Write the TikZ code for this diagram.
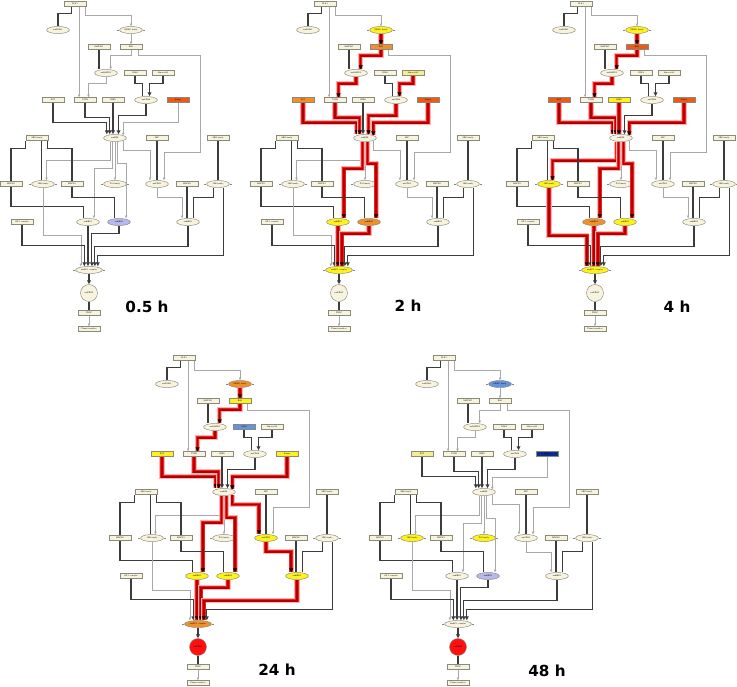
\documentclass[tikz,border=0pt]{standalone}
\usepackage{fontspec}
\usetikzlibrary{shapes.geometric,arrows.meta}
\newfontfamily\labelfont{DejaVu Sans}
\newcommand\tinyfont{\sffamily\fontsize{1.8}{2}\selectfont}

\definecolor{cream}{HTML}{F7F3DE}
\definecolor{boxline}{HTML}{8A8A7A}
\definecolor{thinline}{HTML}{A8A8A8}
\definecolor{darkline}{HTML}{3C3C3C}
\definecolor{nyellow}{HTML}{FFF21A}
\definecolor{norange}{HTML}{F0902A}
\definecolor{nred}{HTML}{EE5A16}
\definecolor{npale}{HTML}{F5EE90}
\definecolor{nblue}{HTML}{6692E2}
\definecolor{nnavy}{HTML}{0B2C8E}
\definecolor{nlav}{HTML}{B8B8F0}
\definecolor{nredc}{HTML}{FF1010}
\definecolor{hotcore}{HTML}{B00000}
\definecolor{hotred}{HTML}{F02020}

\tikzset{
  box/.style={draw=boxline, fill=cream, minimum width=19pt, minimum height=4.3pt, inner sep=0.4pt, font=\tinyfont},
  oval/.style={ellipse, draw=boxline, fill=cream, minimum width=19.5pt, minimum height=6pt, inner sep=0pt, font=\tinyfont},
  dot/.style={circle, draw=boxline, fill=cream, minimum size=14.5pt, inner sep=0pt, font=\tinyfont},
  lt/.style={draw=thinline, line width=0.45pt, >={Triangle[length=2.2pt,width=2pt]}},
  dk/.style={draw=darkline, line width=0.95pt, >={Triangle[length=3.4pt,width=3.2pt]}},
  hot/.style={draw=hotcore, line width=1.3pt, >={Triangle[length=3.4pt,width=3.4pt,color=black]},
    preaction={draw=red!30, line width=4.3pt, arrows=-},
    preaction={draw=hotred, line width=2.9pt, arrows=-}},
  pinw/.style={draw=boxline, line width=0.3pt},
  tlabel/.style={font=\labelfont\bfseries\fontsize{13}{16}\selectfont, inner sep=0pt}
}

% the signalling network of one time point
\newcommand\network{%
  \node[box, f-ELK/.try] (ELK) at (75,4) {ELK1};
  \node[oval, f-FOS/.try] (FOS) at (58,30) {sesFOSL1};
  \node[oval, f-MEKK/.try] (MEKK) at (131,30) {MEKK family};
  \node[box, f-MAP3K/.try] (MAP3K) at (99,47) {MAP3K7};
  \node[box, f-RSK/.try] (RSK) at (131,47) {RSK};
  \node[oval, f-MAPK3/.try] (MAPK3) at (106,73) {sesMAPK3};
  \node[box, f-CDK4/.try] (CDK4) at (135,73) {CDK4};
  \node[box, f-HIST/.try] (HIST) at (163,73) {Histone H3};
  \node[box, f-EGF/.try] (EGF) at (53,100) {EGF};
  \node[box, f-TGFB/.try] (TGFB) at (85,100) {TGFB};
  \node[box, f-GRB/.try] (GRB) at (113,100) {GRB2};
  \node[oval, f-sCDK4/.try] (sCDK4) at (146,100) {sesCDK4};
  \node[box, f-KIN/.try] (KIN) at (178,100) {Kinase};
  \node[oval, f-ERK/.try] (ERK) at (115,138) {sesERK};
  \node[box, f-SRKa/.try] (SRKa) at (37,138) {SRK family};
  \node[box, f-SRC/.try] (SRC) at (157,138) {SRC};
  \node[box, f-SRKb/.try] (SRKb) at (218,138) {SRK family};
  \node[box, f-MAPK2/.try] (MAPK2) at (11,184) {MAPK2};
  \node[oval, f-JNKa/.try] (JNKa) at (43,184) {JNK family};
  \node[box, f-MAPK1/.try] (MAPK1) at (72,184) {MAPK1};
  \node[oval, f-P38/.try] (P38) at (115,184) {P38 family};
  \node[oval, f-CDK1/.try] (CDK1) at (157,184) {sesCDK1};
  \node[box, f-MAPK8/.try] (MAPK8) at (187,184) {MAPK8};
  \node[oval, f-JNKb/.try] (JNKb) at (218,184) {JNK family};
  \node[box, f-AP/.try] (AP) at (22,222) {AP-1 complex};
  \node[oval, f-ERKa/.try] (ERKa) at (88,222) {sesERK1};
  \node[oval, f-ERKb/.try] (ERKb) at (119,222) {sesERK2};
  \node[oval, f-ERKc/.try] (ERKc) at (188,222) {sesERK3};
  \node[oval, f-sAP/.try, minimum width=23pt] (sAP) at (89,270) {sesAP-1 complex};
  \node[dot, f-sPROC/.try] (sPROC) at (89,293) {sesPROC};
  \node[box] (PROC) at (89,313) {PROC};
  \node[box] (PH) at (89,329) {Phase transition};
  \foreach \p in {MEKK,JNKa,P38,JNKb,sAP} {
    \draw[pinw] (\p.west) -- ++(-2,0);
    \draw[pinw] (\p.east) -- ++(2,0);
  }
  % top part
  \draw[dk, e-ELK-FOS/.try] ([xshift=-3pt]ELK.south) -- ++(0,7) -| (FOS.north);
  \draw[lt, ->, e-ELK-TGFB/.try] ([xshift=3.5pt]ELK.south) -- ([xshift=3.5pt]ELK.south |- TGFB.north);
  \draw[lt, ->, e-ELK-MEKK/.try] ([xshift=9pt]ELK.south) -- ++(0,9) -| (MEKK.north);
  \draw[lt, ->, e-MEKK-RSK/.try] (MEKK.south) -- (RSK.north);
  \draw[dk, e-MAP3K-MAPK3/.try] (MAP3K.south) -- (MAP3K.south |- MAPK3.north);
  \draw[lt, ->, e-RSK-MAPK3/.try] (RSK.south) -- ++(0,6) -| ([xshift=4pt]MAPK3.north);
  \draw[lt, ->, e-RSK-CDK1/.try] ([xshift=6pt]RSK.south) -- ++(0,6) -- ++(62,0) -- ++(0,97) -| ([xshift=6pt]CDK1.north);
  \draw[lt, ->, e-MAPK3-TGFB/.try] (MAPK3.south) -- ++(0,7) -| ([xshift=3pt]TGFB.north);
  \draw[dk, e-CDK4-sCDK4/.try] (CDK4.south) -- ++(0,8) -| ([xshift=-3pt]sCDK4.north);
  \draw[dk, ->, e-HIST-sCDK4/.try] (HIST.south) -- ++(0,8) -| ([xshift=3pt]sCDK4.north);
  % into sesERK
  \draw[dk, ->, e-EGF-ERK/.try] (EGF.south) -- ++(0,20) -| ([xshift=-7pt]ERK.north);
  \draw[dk, ->, e-TGFB-ERK/.try] (TGFB.south) -- ++(0,15) -| ([xshift=-4.5pt]ERK.north);
  \draw[dk, ->, e-GRB-ERK/.try] (GRB.south) -- (GRB.south |- ERK.north);
  \draw[dk, ->, e-sCDK4-ERK/.try] (sCDK4.south) -- ++(0,12) -| ([xshift=3pt]ERK.north);
  \draw[lt, ->, e-KIN-ERK/.try] (KIN.south) -- ++(0,20) -| (ERK.north east);
  % out of sesERK
  \draw[lt, ->, e-ERK-JNKa/.try] ([xshift=-4pt]ERK.south) -- ++(0,19) -| ([xshift=3pt]JNKa.north);
  \draw[lt, ->, e-ERK-P38/.try] (ERK.south) -- (P38.north);
  \draw[lt, ->, e-ERK-ERKa/.try] ([xshift=-2pt]ERK.south) -- ++(0,27) -| ([xshift=5pt]ERKa.north);
  \draw[lt, ->, e-ERK-ERKb/.try] ([xshift=2pt]ERK.south) -- ++(0,22) -| ([xshift=6pt]ERKb.north);
  \draw[lt, ->, e-ERK-CDK1/.try] (ERK.south east) -- ++(0,10) -| ([xshift=-6pt]CDK1.north);
  \draw[dk, e-SRC-CDK1/.try] (SRC.south) -- (CDK1.north);
  % kinase families
  \draw[dk, e-SRKa-MAPK2/.try] ([xshift=-10pt]SRKa.south) -- ++(0,8) -| (MAPK2.north);
  \draw[dk, e-SRKa-JNKa/.try] ([xshift=4pt]SRKa.south) -- ([xshift=4pt]SRKa.south |- JNKa.north);
  \draw[dk, e-SRKa-MAPK1/.try] ([xshift=9pt]SRKa.south) -- ++(0,8) -| (MAPK1.north);
  \draw[dk, e-MAPK2-ERKa/.try] (MAPK2.south) -- ++(0,20) -| ([xshift=-4pt]ERKa.north);
  \draw[dk, e-MAPK1-ERKb/.try] (MAPK1.south) -- ++(0,11) -| ([xshift=-4pt]ERKb.north);
  \draw[dk, e-SRKb-JNKb/.try] (SRKb.south) -- (JNKb.north);
  \draw[dk, e-MAPK8-ERKc/.try] (MAPK8.south) -- (MAPK8.south |- ERKc.north);
  \draw[dk, e-JNKb-ERKc/.try] ([xshift=-4pt]JNKb.south) -- ++(0,10) -| ([xshift=5pt]ERKc.north);
  \draw[lt, ->, e-CDK1-ERKc/.try] (CDK1.south) -- ++(0,10) -| ([xshift=-5pt]ERKc.north);
  % into AP-1
  \draw[lt, ->, e-JNKa-sAP/.try] (JNKa.south) -- ++(0,48) -| ([xshift=-7pt]sAP.north);
  \draw[dk, ->, e-AP-sAP/.try] (AP.south) -- ++(0,21) -| ([xshift=-4pt]sAP.north);
  \draw[dk, ->, e-ERKa-sAP/.try] (ERKa.south) -- (ERKa.south |- sAP.north);
  \draw[dk, ->, e-ERKb-sAP/.try] (ERKb.south) -- ++(0,8) -| ([xshift=2.5pt]sAP.north);
  \draw[dk, ->, e-ERKc-sAP/.try] (ERKc.south) -- ++(0,21) -| ([xshift=5pt]sAP.north);
  \draw[dk, ->, e-JNKb-sAP/.try] ([xshift=5pt]JNKb.south) -- ++(0,68) -| ([xshift=7.5pt]sAP.north);
  % output
  \draw[dk, ->, e-sAP-sPROC/.try] (sAP.south) -- (sPROC.north);
  \draw[dk, e-sPROC-PROC/.try] (sPROC.south) -- (PROC.north);
  \draw[lt, ->, e-PROC-PH/.try] (PROC.south) -- (PH.north);
}

\begin{document}
\begin{tikzpicture}[x=0.03cm, y=-0.03cm]
  \useasboundingbox (0,0) rectangle (737,686);

  % 0.5 h
  \begin{scope}[f-KIN/.style={fill=nred}, f-ERKb/.style={fill=nlav}]
    \network
    \node[tlabel] (t1) at (147,307) {0.5 h};
  \end{scope}

  % 2 h
  \begin{scope}[shift={(250,0)},
      f-MEKK/.style={fill=nyellow}, f-RSK/.style={fill=norange}, f-HIST/.style={fill=npale},
      f-EGF/.style={fill=norange}, f-KIN/.style={fill=nred}, f-ERKa/.style={fill=nyellow},
      f-ERKb/.style={fill=norange}, f-sAP/.style={fill=nyellow},
      e-MEKK-RSK/.style=hot, e-RSK-MAPK3/.style=hot, e-MAPK3-TGFB/.style=hot,
      e-HIST-sCDK4/.style=hot, e-EGF-ERK/.style=hot, e-TGFB-ERK/.style=hot,
      e-sCDK4-ERK/.style=hot, e-KIN-ERK/.style=hot, e-ERK-ERKa/.style=hot,
      e-ERK-ERKb/.style=hot, e-ERKa-sAP/.style=hot, e-ERKb-sAP/.style=hot]
    \network
    \node[tlabel] (t2) at (158,306) {2 h};
  \end{scope}

  % 4 h
  \begin{scope}[shift={(506,0)},
      f-MEKK/.style={fill=nyellow}, f-RSK/.style={fill=nred}, f-EGF/.style={fill=nred},
      f-GRB/.style={fill=nyellow}, f-KIN/.style={fill=nred}, f-JNKa/.style={fill=nyellow},
      f-ERKa/.style={fill=norange}, f-ERKb/.style={fill=nyellow}, f-sAP/.style={fill=nyellow},
      e-MEKK-RSK/.style=hot, e-RSK-MAPK3/.style=hot, e-MAPK3-TGFB/.style=hot,
      e-EGF-ERK/.style=hot, e-TGFB-ERK/.style=hot, e-GRB-ERK/.style=hot,
      e-KIN-ERK/.style=hot, e-ERK-JNKa/.style=hot, e-ERK-ERKa/.style=hot,
      e-ERK-ERKb/.style=hot, e-JNKa-sAP/.style=hot, e-ERKa-sAP/.style=hot,
      e-ERKb-sAP/.style=hot]
    \network
    \node[tlabel] (t3) at (171,307) {4 h};
  \end{scope}

  % 24 h
  \begin{scope}[shift={(109,354)},
      f-MEKK/.style={fill=norange}, f-RSK/.style={fill=nyellow}, f-CDK4/.style={fill=nblue},
      f-EGF/.style={fill=nyellow}, f-KIN/.style={fill=nyellow}, f-CDK1/.style={fill=nyellow},
      f-ERKa/.style={fill=nyellow}, f-ERKb/.style={fill=nyellow}, f-ERKc/.style={fill=nyellow},
      f-sAP/.style={fill=norange}, f-sPROC/.style={fill=nredc},
      e-MEKK-RSK/.style=hot, e-RSK-MAPK3/.style=hot, e-MAPK3-TGFB/.style=hot,
      e-EGF-ERK/.style=hot, e-TGFB-ERK/.style=hot, e-KIN-ERK/.style=hot,
      e-ERK-ERKa/.style=hot, e-ERK-ERKb/.style=hot, e-ERK-CDK1/.style=hot,
      e-CDK1-ERKc/.style=hot, e-ERKa-sAP/.style=hot, e-ERKb-sAP/.style=hot,
      e-ERKc-sAP/.style=hot]
    \network
    \node[tlabel] (t4) at (168,316) {24 h};
  \end{scope}

  % 48 h
  \begin{scope}[shift={(369,354)},
      f-MEKK/.style={fill=nblue}, f-EGF/.style={fill=npale}, f-KIN/.style={fill=nnavy},
      f-JNKa/.style={fill=nyellow}, f-P38/.style={fill=nyellow}, f-ERKb/.style={fill=nlav},
      f-sPROC/.style={fill=nredc}]
    \network
    \node[tlabel] (t5) at (178,317) {48 h};
  \end{scope}
\end{tikzpicture}
\end{document}
